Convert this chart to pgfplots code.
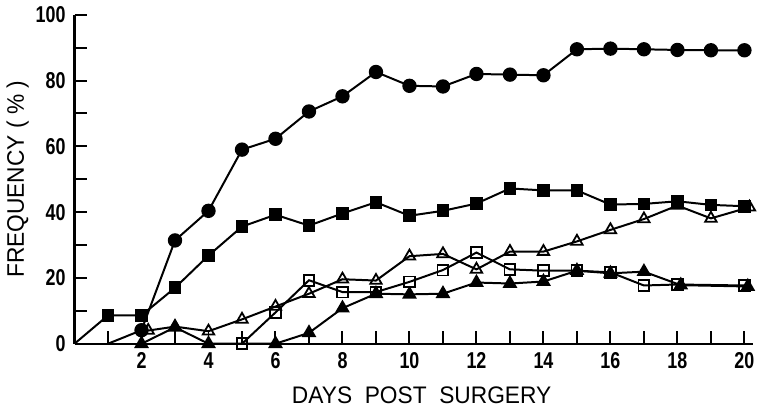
\documentclass[border=0pt]{standalone}
\usepackage{fontspec}
\setmainfont{Liberation Sans}[FakeStretch=0.85]
\newfontfamily\labelfont{Liberation Sans}[FakeStretch=0.95]
\newfontfamily\tickfont{Liberation Sans}[FakeStretch=0.78]
\usepackage{pgfplots}
\pgfplotsset{compat=1.18}
\begin{document}
\begin{tikzpicture}
\begin{axis}[
  x=16.8pt, y=1.65pt,
  xmin=0, xmax=20.25, ymin=0, ymax=100,
  axis x line=bottom, axis y line=left,
  axis line style={line width=1.1pt, -},
  tick align=inside,
  major tick length=6.5pt,
  minor tick length=6.5pt,
  tick style={line width=1pt, black},
  xtick={2,4,...,20}, minor xtick={1,3,...,19},
  ytick={0,20,...,100}, minor ytick={10,30,...,90},
  /pgf/number format/assume math mode=true,
  tick label style={font=\fontsize{11.5}{12}\selectfont\tickfont\bfseries},
  xticklabel style={yshift=-1pt},
  yticklabel style={xshift=-1pt},
  xlabel={DAYS\ \ POST\ \ SURGERY},
  ylabel={FREQUENCY ( \% )},
  label style={font=\fontsize{12}{12}\selectfont\labelfont},
  xlabel style={yshift=-2pt, xshift=4pt},
  ylabel style={yshift=-3.5pt},
  every axis plot/.append style={line width=1pt, black},
  clip=false,
]
% filled circles
\addplot[mark=*, mark size=3.1pt, mark indices={2,...,20}] coordinates {
(1,0) (2,4.1) (3,31.4) (4,40.4) (5,59.0) (6,62.3) (7,70.6) (8,75.2) (9,82.6) (10,78.4)
(11,78.2) (12,82.0) (13,81.8) (14,81.6) (15,89.5) (16,89.7) (17,89.5) (18,89.3) (19,89.2) (20,89.2)};
% filled squares
\addplot[mark=square*, mark size=2.7pt, mark indices={2,...,21}] coordinates {
(0,0) (1,8.6) (2,8.6) (3,17.0) (4,26.8) (5,35.6) (6,39.2) (7,35.9) (8,39.6) (9,43.0) (10,38.9)
(11,40.4) (12,42.6) (13,47.2) (14,46.6) (15,46.6) (16,42.3) (17,42.5) (18,43.3) (19,42.2) (20,41.8)};
% open triangles
\addplot[mark=triangle, mark size=3.3pt, mark options={fill=white, line width=0.9pt}] coordinates {
(2.2,4.0) (3,5.2) (4,3.8) (5,7.4) (6,11.3) (7,15.2) (8,19.6) (9,19.2) (10,26.6)
(11,27.3) (12,22.6) (13,28.0) (14,28.0) (15,31.1) (16,34.6) (17,37.9) (18,42.0) (19,38.1) (20.15,41.5)};
% open squares
\addplot[mark=square, mark size=2.7pt, mark options={fill=white, line width=0.9pt}] coordinates {
(5,0) (6,9.5) (7,19.3) (8,15.7) (9,15.7) (10,18.8)
(11,22.4) (12,27.7) (13,22.6) (14,22.2) (15,22.2) (16,21.7) (17,17.7) (18,18.0) (20,17.7)};
% filled triangles
\addplot[mark=triangle*, mark size=3.3pt] coordinates {
(2,0) (3,5.0) (4,0) (6,0) (7,3.3) (8,10.8) (9,15.2) (10,15.0)
(11,15.2) (12,18.6) (13,18.3) (14,18.9) (15,22.2) (16,21.4) (17,21.9) (18.1,17.8) (20.1,17.4)};
\end{axis}
\end{tikzpicture}
\end{document}
